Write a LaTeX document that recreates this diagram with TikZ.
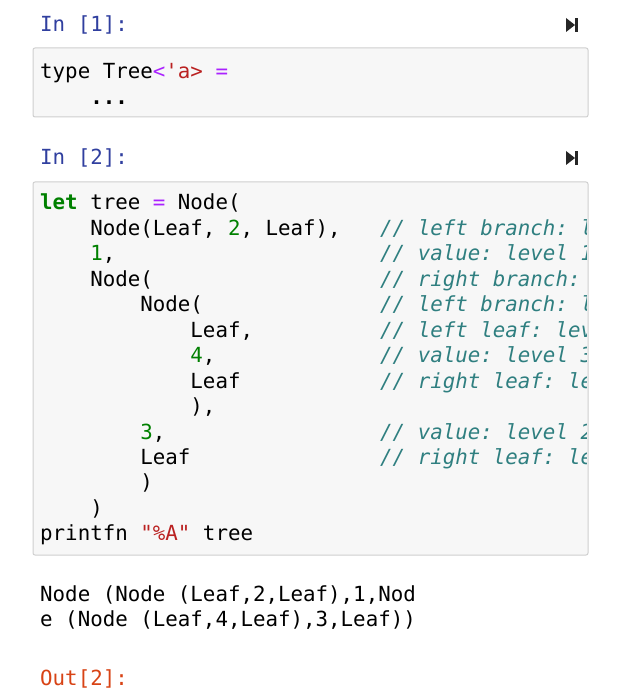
\documentclass[tikz,border=0pt]{standalone}
\usepackage{fontspec}
\setmonofont{DejaVu Sans Mono}
\begin{document}
\begin{tikzpicture}[x=1pt,y=-1pt]
\definecolor{prompt}{HTML}{303F9F}
\definecolor{outp}{HTML}{D84315}
\definecolor{kw}{HTML}{008000}
\definecolor{op}{HTML}{AA22FF}
\definecolor{str}{HTML}{BA2121}
\definecolor{cmt}{HTML}{2F7F80}
\definecolor{cellbg}{HTML}{F7F7F7}
\definecolor{cellbd}{HTML}{CFCFCF}
\tikzset{
  code/.style={anchor=base west,inner sep=0pt,font=\ttfamily\fontsize{20.8}{25.5}\selectfont,text=black},
  com/.style={code,text=cmt,font=\ttfamily\itshape\fontsize{20.8}{25.5}\selectfont},
  cell/.style={fill=cellbg,draw=cellbd,line width=1pt,rounded corners=2pt},
  runicon/.style={fill=black!85}
}
\useasboundingbox (0,0) rectangle (619,700);
\fill[white] (0,0) rectangle (619,700);
% cell 1
\node[code,text=prompt] (p1) at (40,32) {In [1]:};
\fill[runicon] (566,18) -- (575,25) -- (566,32) -- cycle;
\fill[runicon] (575,18) rectangle (578,32);
\draw[cell] (33,48) rectangle (588,117);
\node[code] (c1a) at (40,79) {type Tree{\color{op}<}{\color{str}'a>} {\color{op}=}};
\node[code] (c1b) at (40,105) {\ \ \ \ {\bfseries...}};
% cell 2
\node[code,text=prompt] (p2) at (40,165) {In [2]:};
\fill[runicon] (566,151) -- (575,158) -- (566,165) -- cycle;
\fill[runicon] (575,151) rectangle (578,165);
\draw[cell] (33,182) rectangle (588,555);
\def\L#1#2{\node[code] (l#1) at (40,{210+25.45*(#1)}) {#2};}
\L{0}{{\bfseries\color{kw}let} tree {\color{op}=} Node(}
\L{1}{\ \ \ \ Node(Leaf, {\color{kw}2}, Leaf),}
\L{2}{\ \ \ \ {\color{kw}1},}
\L{3}{\ \ \ \ Node(}
\L{4}{\ \ \ \ \ \ \ \ Node(}
\L{5}{\ \ \ \ \ \ \ \ \ \ \ \ Leaf,}
\L{6}{\ \ \ \ \ \ \ \ \ \ \ \ {\color{kw}4},}
\L{7}{\ \ \ \ \ \ \ \ \ \ \ \ Leaf}
\L{8}{\ \ \ \ \ \ \ \ \ \ \ \ ),}
\L{9}{\ \ \ \ \ \ \ \ {\color{kw}3},}
\L{10}{\ \ \ \ \ \ \ \ Leaf}
\L{11}{\ \ \ \ \ \ \ \ )}
\L{12}{\ \ \ \ )}
\L{13}{printfn {\color{str}"\%A"} tree}
\begin{scope}
\clip (370,185) rectangle (586,550);
\def\C#1#2{\node[com] (k#1) at (380,{210+25.45*(#1)}) {#2};}
\C{1}{// left branch: l}
\C{2}{// value: level 1}
\C{3}{// right branch: l}
\C{4}{// left branch: l}
\C{5}{// left leaf: lev}
\C{6}{// value: level 3}
\C{7}{// right leaf: le}
\C{9}{// value: level 2}
\C{10}{// right leaf: le}
\end{scope}
% output
\node[code] (o1) at (40,601) {Node (Node (Leaf,2,Leaf),1,Nod};
\node[code] (o2) at (40,626) {e (Node (Leaf,4,Leaf),3,Leaf))};
\node[code,text=outp] (p3) at (40,685) {Out[2]:};
\end{tikzpicture}
\end{document}
